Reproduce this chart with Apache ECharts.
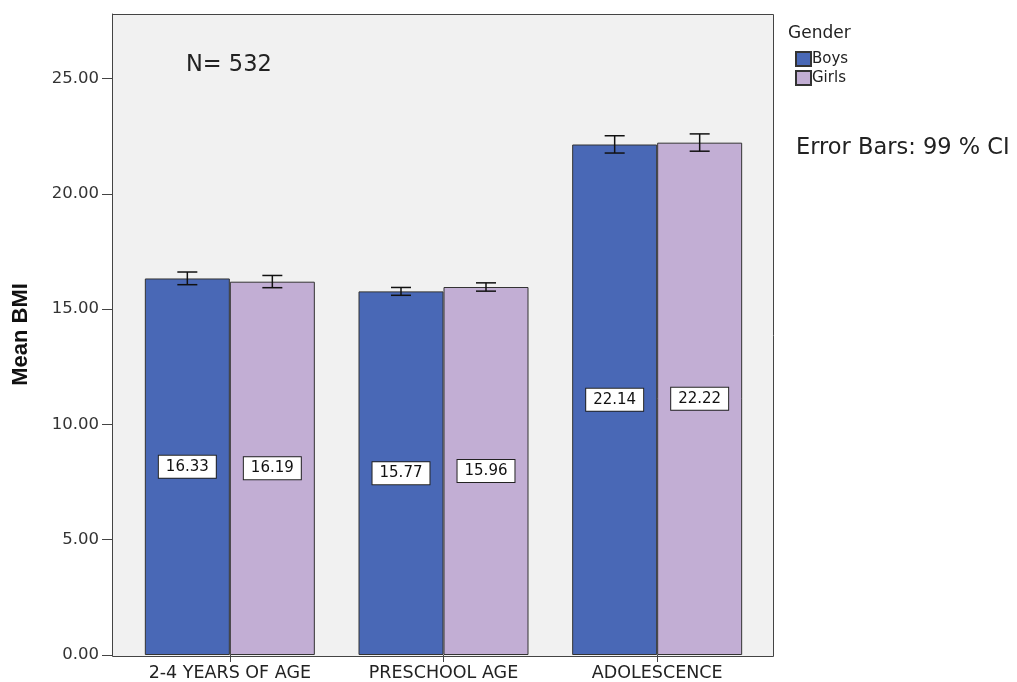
<!DOCTYPE html>
<html>
<head>
<meta charset="utf-8">
<script src="https://cdn.jsdelivr.net/npm/echarts@6/dist/echarts.min.js"></script>
<style>
  html, body { margin: 0; padding: 0; background: #fff; }
  #chart { width: 1017px; height: 682px; }
</style>
</head>
<body>
<div id="chart"></div>
<script>
// Mean BMI by age group and gender, with 99% confidence intervals
const categories = ['2-4 YEARS OF AGE', 'PRESCHOOL AGE', 'ADOLESCENCE'];
const boysMean = [16.33, 15.77, 22.14];
const girlsMean = [16.19, 15.96, 22.22];
const boysCI = [[16.06, 16.61], [15.60, 15.94], [21.77, 22.52]];
const girlsCI = [[15.93, 16.46], [15.78, 16.14], [21.85, 22.60]];
const yTicks = [0, 5, 10, 15, 20, 25];

const BOYS = '#4968b6';
const GIRLS = '#c2aed4';
const LINE = '#444';
const BAR_W = 85;

// Outer plot frame (wider than the category bands, leaving padding at both ends)
const FRAME = { left: 112, top: 14, right: 773, bottom: 656 };
const PAD = 11;

const chart = echarts.init(document.getElementById('chart'));

const valueLabel = {
  show: true,
  position: 'inside',
  formatter: p => p.value.toFixed(2),
  color: '#111',
  fontFamily: 'DejaVu Sans',
  fontSize: 15,
  lineHeight: 15,
  backgroundColor: '#fff',
  borderColor: '#222',
  borderWidth: 1,
  padding: [4, 7, 3, 7]
};

// Draws an I-shaped error bar over one of the two bars in each group
function errorBarRenderer(ci, side) {
  return function (params, api) {
    const idx = api.value(0);
    const lo = api.coord([idx, ci[idx][0]]);
    const hi = api.coord([idx, ci[idx][1]]);
    const x = lo[0] + side * BAR_W / 2;
    const half = 10;
    const style = { stroke: '#111', lineWidth: 1.5, fill: null };
    return {
      type: 'group',
      children: [
        { type: 'line', shape: { x1: x, y1: lo[1], x2: x, y2: hi[1] }, style },
        { type: 'line', shape: { x1: x - half, y1: lo[1], x2: x + half, y2: lo[1] }, style },
        { type: 'line', shape: { x1: x - half, y1: hi[1], x2: x + half, y2: hi[1] }, style }
      ]
    };
  };
}

const option = {
  animation: false,
  backgroundColor: '#fff',
  grid: {
    left: FRAME.left + PAD,
    right: 1017 - FRAME.right + PAD - 2,
    top: FRAME.top,
    bottom: 682 - FRAME.bottom
  },
  graphic: [
    {
      type: 'rect', z: 0, silent: true,
      shape: {
        x: FRAME.left + 0.5, y: FRAME.top + 0.5,
        width: FRAME.right - FRAME.left, height: FRAME.bottom - FRAME.top
      },
      style: { fill: '#f1f1f1', stroke: LINE, lineWidth: 1 }
    }
  ],
  title: [
    {
      text: 'N= 532',
      left: 181, top: 49,
      textStyle: { fontFamily: 'DejaVu Sans', fontSize: 22.5, fontWeight: 'normal', color: '#222' }
    },
    {
      text: 'Gender',
      left: 783, top: 20,
      textStyle: { fontFamily: 'DejaVu Sans', fontSize: 17, fontWeight: 'normal', color: '#222' }
    },
    {
      text: 'Error Bars: 99 % CI',
      left: 791, top: 132,
      textStyle: { fontFamily: 'DejaVu Sans', fontSize: 22.5, fontWeight: 'normal', color: '#222' }
    }
  ],
  legend: {
    orient: 'vertical',
    left: 790, top: 46,
    itemWidth: 15, itemHeight: 14,
    itemGap: 3,
    icon: 'rect',
    textStyle: { fontFamily: 'DejaVu Sans', fontSize: 15, lineHeight: 15, color: '#222', padding: [0, 0, 0, -4] },
    data: ['Boys', 'Girls']
  },
  xAxis: {
    type: 'category',
    data: categories,
    axisLine: { show: false },
    axisTick: { show: true, alignWithLabel: true, length: 7, lineStyle: { color: LINE } },
    axisLabel: { fontFamily: 'DejaVu Sans', fontSize: 17.5, color: '#222', margin: 9 },
    splitLine: { show: false }
  },
  yAxis: {
    type: 'value',
    min: 0, max: 27.8, interval: 5,
    offset: PAD,
    name: 'Mean BMI',
    nameLocation: 'middle',
    nameGap: 80,
    nameTextStyle: { fontFamily: 'Liberation Sans Narrow, Liberation Sans', fontSize: 22, fontWeight: 'bold', color: '#111' },
    axisLine: { show: true, lineStyle: { color: LINE } },
    axisTick: { show: true, length: 10, lineStyle: { color: LINE } },
    axisLabel: {
      fontFamily: 'DejaVu Sans', fontSize: 16.5, color: '#333', margin: 13,
      showMaxLabel: false,
      formatter: v => yTicks.includes(v) ? v.toFixed(2) : ''
    },
    splitLine: { show: false }
  },
  series: [
    {
      name: 'Boys', type: 'bar', data: boysMean,
      barGap: '0%', barWidth: BAR_W,
      itemStyle: { color: BOYS, borderColor: '#333', borderWidth: 1 },
      label: valueLabel
    },
    {
      name: 'Girls', type: 'bar', data: girlsMean,
      barGap: '0%', barWidth: BAR_W,
      itemStyle: { color: GIRLS, borderColor: '#333', borderWidth: 1 },
      label: valueLabel
    },
    {
      name: 'Boys CI', type: 'custom', z: 10,
      data: categories.map((c, i) => [i]),
      renderItem: errorBarRenderer(boysCI, -1)
    },
    {
      name: 'Girls CI', type: 'custom', z: 10,
      data: categories.map((c, i) => [i]),
      renderItem: errorBarRenderer(girlsCI, 1)
    }
  ]
};

chart.setOption(option);
</script>
</body>
</html>
